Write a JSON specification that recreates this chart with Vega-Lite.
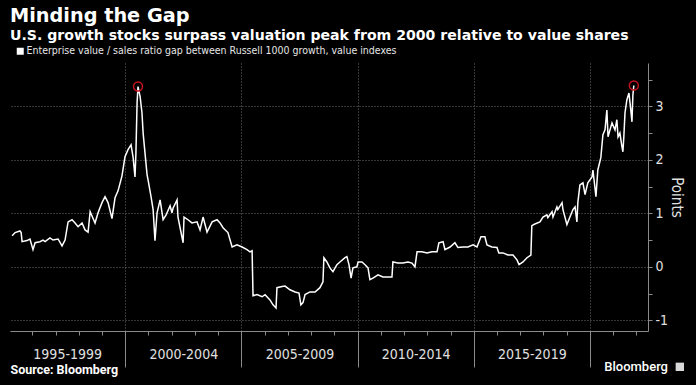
{
  "$schema": "https://vega.github.io/schema/vega-lite/v6.json",
  "width": 638,
  "height": 268,
  "autosize": {"type": "none"},
  "padding": {"left": 10, "top": 63, "right": 48, "bottom": 54},
  "background": "#000000",
  "title": {
    "text": "Minding the Gap",
    "subtitle": "U.S. growth stocks surpass valuation peak from 2000 relative to value shares",
    "anchor": "start",
    "frame": "group",
    "offset": 3,
    "font": "DejaVu Sans",
    "fontSize": 19.3,
    "fontWeight": "bold",
    "color": "#ffffff",
    "subtitleFont": "DejaVu Sans",
    "subtitleFontSize": 14.1,
    "subtitleFontWeight": "bold",
    "subtitleColor": "#ffffff",
    "subtitlePadding": 3
  },
  "datasets": {
    "gap": [
      {"year": 1995.13, "gap": 0.58}, {"year": 1995.26, "gap": 0.64}, {"year": 1995.47, "gap": 0.67}, {"year": 1995.52, "gap": 0.64},
      {"year": 1995.56, "gap": 0.47}, {"year": 1995.77, "gap": 0.49}, {"year": 1995.90, "gap": 0.52}, {"year": 1996.03, "gap": 0.32},
      {"year": 1996.12, "gap": 0.45}, {"year": 1996.33, "gap": 0.47}, {"year": 1996.46, "gap": 0.50}, {"year": 1996.55, "gap": 0.47},
      {"year": 1996.76, "gap": 0.54}, {"year": 1996.89, "gap": 0.50}, {"year": 1997.11, "gap": 0.52}, {"year": 1997.28, "gap": 0.39},
      {"year": 1997.41, "gap": 0.50}, {"year": 1997.54, "gap": 0.84}, {"year": 1997.71, "gap": 0.88}, {"year": 1997.84, "gap": 0.82},
      {"year": 1997.97, "gap": 0.75}, {"year": 1998.14, "gap": 0.82}, {"year": 1998.27, "gap": 0.69}, {"year": 1998.40, "gap": 0.65},
      {"year": 1998.49, "gap": 1.03}, {"year": 1998.70, "gap": 0.82}, {"year": 1998.83, "gap": 1.01}, {"year": 1999.00, "gap": 1.20},
      {"year": 1999.13, "gap": 1.31}, {"year": 1999.26, "gap": 1.20}, {"year": 1999.43, "gap": 0.90}, {"year": 1999.56, "gap": 1.29},
      {"year": 1999.69, "gap": 1.42}, {"year": 1999.86, "gap": 1.70}, {"year": 1999.99, "gap": 2.06}, {"year": 2000.12, "gap": 2.19},
      {"year": 2000.25, "gap": 2.28}, {"year": 2000.34, "gap": 2.04}, {"year": 2000.42, "gap": 1.68}, {"year": 2000.46, "gap": 2.13},
      {"year": 2000.51, "gap": 3.07}, {"year": 2000.55, "gap": 3.37}, {"year": 2000.64, "gap": 3.18}, {"year": 2000.72, "gap": 2.88},
      {"year": 2000.77, "gap": 2.50}, {"year": 2000.85, "gap": 2.13}, {"year": 2000.94, "gap": 1.72}, {"year": 2000.98, "gap": 1.63},
      {"year": 2001.11, "gap": 1.31}, {"year": 2001.20, "gap": 1.07}, {"year": 2001.28, "gap": 0.49}, {"year": 2001.37, "gap": 1.01},
      {"year": 2001.50, "gap": 1.25}, {"year": 2001.63, "gap": 0.88}, {"year": 2001.76, "gap": 0.97}, {"year": 2001.93, "gap": 1.14},
      {"year": 2002.01, "gap": 1.01}, {"year": 2002.06, "gap": 1.10}, {"year": 2002.23, "gap": 1.25}, {"year": 2002.27, "gap": 0.93},
      {"year": 2002.49, "gap": 0.45}, {"year": 2002.53, "gap": 0.93}, {"year": 2002.70, "gap": 0.88}, {"year": 2002.87, "gap": 0.82},
      {"year": 2003.09, "gap": 0.84}, {"year": 2003.22, "gap": 0.69}, {"year": 2003.35, "gap": 0.93}, {"year": 2003.52, "gap": 0.65},
      {"year": 2003.74, "gap": 0.84}, {"year": 2003.95, "gap": 0.88}, {"year": 2004.08, "gap": 0.82}, {"year": 2004.21, "gap": 0.73},
      {"year": 2004.42, "gap": 0.64}, {"year": 2004.60, "gap": 0.37}, {"year": 2004.81, "gap": 0.41}, {"year": 2005.03, "gap": 0.37},
      {"year": 2005.24, "gap": 0.32}, {"year": 2005.37, "gap": 0.28}, {"year": 2005.46, "gap": 0.30}, {"year": 2005.50, "gap": -0.54},
      {"year": 2005.67, "gap": -0.52}, {"year": 2005.89, "gap": -0.56}, {"year": 2006.02, "gap": -0.52}, {"year": 2006.23, "gap": -0.62},
      {"year": 2006.36, "gap": -0.71}, {"year": 2006.49, "gap": -0.77}, {"year": 2006.53, "gap": -0.39}, {"year": 2006.75, "gap": -0.37},
      {"year": 2006.88, "gap": -0.36}, {"year": 2007.09, "gap": -0.43}, {"year": 2007.31, "gap": -0.47}, {"year": 2007.48, "gap": -0.49},
      {"year": 2007.56, "gap": -0.71}, {"year": 2007.65, "gap": -0.67}, {"year": 2007.74, "gap": -0.52}, {"year": 2007.95, "gap": -0.47},
      {"year": 2008.17, "gap": -0.47}, {"year": 2008.38, "gap": -0.39}, {"year": 2008.51, "gap": -0.28}, {"year": 2008.55, "gap": 0.17},
      {"year": 2008.68, "gap": 0.09}, {"year": 2008.81, "gap": -0.02}, {"year": 2008.94, "gap": -0.09}, {"year": 2009.11, "gap": 0.04},
      {"year": 2009.24, "gap": 0.09}, {"year": 2009.46, "gap": 0.17}, {"year": 2009.54, "gap": 0.19}, {"year": 2009.63, "gap": 0.04},
      {"year": 2009.72, "gap": -0.21}, {"year": 2009.80, "gap": -0.02}, {"year": 2009.97, "gap": 0.00}, {"year": 2010.02, "gap": 0.09},
      {"year": 2010.19, "gap": 0.09}, {"year": 2010.32, "gap": 0.04}, {"year": 2010.45, "gap": -0.02}, {"year": 2010.53, "gap": -0.24},
      {"year": 2010.66, "gap": -0.21}, {"year": 2010.88, "gap": -0.15}, {"year": 2011.09, "gap": -0.19}, {"year": 2011.31, "gap": -0.19},
      {"year": 2011.48, "gap": -0.19}, {"year": 2011.52, "gap": 0.09}, {"year": 2011.74, "gap": 0.07}, {"year": 2011.95, "gap": 0.07},
      {"year": 2012.17, "gap": 0.09}, {"year": 2012.34, "gap": 0.07}, {"year": 2012.47, "gap": 0.00}, {"year": 2012.56, "gap": 0.28},
      {"year": 2012.77, "gap": 0.28}, {"year": 2012.99, "gap": 0.26}, {"year": 2013.20, "gap": 0.28}, {"year": 2013.42, "gap": 0.28},
      {"year": 2013.50, "gap": 0.45}, {"year": 2013.68, "gap": 0.47}, {"year": 2013.76, "gap": 0.32}, {"year": 2013.98, "gap": 0.37},
      {"year": 2014.19, "gap": 0.45}, {"year": 2014.32, "gap": 0.36}, {"year": 2014.54, "gap": 0.37}, {"year": 2014.75, "gap": 0.37},
      {"year": 2014.97, "gap": 0.41}, {"year": 2015.14, "gap": 0.37}, {"year": 2015.31, "gap": 0.56}, {"year": 2015.48, "gap": 0.56},
      {"year": 2015.57, "gap": 0.41}, {"year": 2015.78, "gap": 0.37}, {"year": 2016.00, "gap": 0.36}, {"year": 2016.08, "gap": 0.26},
      {"year": 2016.26, "gap": 0.26}, {"year": 2016.47, "gap": 0.22}, {"year": 2016.69, "gap": 0.22}, {"year": 2016.86, "gap": 0.13},
      {"year": 2016.95, "gap": 0.04}, {"year": 2017.12, "gap": 0.09}, {"year": 2017.29, "gap": 0.17}, {"year": 2017.46, "gap": 0.22},
      {"year": 2017.50, "gap": 0.77}, {"year": 2017.63, "gap": 0.80}, {"year": 2017.85, "gap": 0.84}, {"year": 2017.98, "gap": 0.93},
      {"year": 2018.15, "gap": 0.97}, {"year": 2018.19, "gap": 0.92}, {"year": 2018.37, "gap": 1.03}, {"year": 2018.41, "gap": 0.93},
      {"year": 2018.58, "gap": 1.12}, {"year": 2018.62, "gap": 1.07}, {"year": 2018.80, "gap": 1.20}, {"year": 2018.84, "gap": 1.07},
      {"year": 2019.01, "gap": 0.79}, {"year": 2019.14, "gap": 0.93}, {"year": 2019.27, "gap": 1.07}, {"year": 2019.36, "gap": 1.12},
      {"year": 2019.44, "gap": 0.84}, {"year": 2019.48, "gap": 1.20}, {"year": 2019.57, "gap": 1.53}, {"year": 2019.70, "gap": 1.57},
      {"year": 2019.79, "gap": 1.35}, {"year": 2019.91, "gap": 1.57}, {"year": 2020.09, "gap": 1.68}, {"year": 2020.13, "gap": 1.81},
      {"year": 2020.26, "gap": 1.31}, {"year": 2020.34, "gap": 1.81}, {"year": 2020.47, "gap": 2.04}, {"year": 2020.56, "gap": 2.47},
      {"year": 2020.65, "gap": 2.56}, {"year": 2020.73, "gap": 2.93}, {"year": 2020.78, "gap": 2.43}, {"year": 2020.95, "gap": 2.69},
      {"year": 2021.08, "gap": 2.56}, {"year": 2021.16, "gap": 2.75}, {"year": 2021.21, "gap": 2.43}, {"year": 2021.29, "gap": 2.50},
      {"year": 2021.38, "gap": 2.24}, {"year": 2021.42, "gap": 2.15}, {"year": 2021.46, "gap": 2.43}, {"year": 2021.51, "gap": 2.88},
      {"year": 2021.59, "gap": 3.12}, {"year": 2021.68, "gap": 3.25}, {"year": 2021.76, "gap": 2.93}, {"year": 2021.81, "gap": 2.71},
      {"year": 2021.85, "gap": 3.21}, {"year": 2021.89, "gap": 3.39}
    ],
    "peaks": [
      {"year": 2000.55, "gap": 3.37},
      {"year": 2021.89, "gap": 3.39}
    ]
  },
  "layer": [
    {
      "data": {"name": "gap"},
      "mark": {"type": "line", "strokeWidth": 1.5},
      "encoding": {
        "x": {
          "field": "year", "type": "quantitative",
          "scale": {"domain": [1995.04, 2022.5], "nice": false, "zero": false},
          "axis": {
            "orient": "bottom", "values": [2000, 2005, 2010, 2015, 2020], "labels": false, "title": null,
            "tickSize": 36, "tickColor": "#8a8a8a", "domainColor": "#8a8a8a",
            "grid": true, "gridColor": "#6a6a6a", "gridDash": [1, 2]
          }
        },
        "y": {
          "field": "gap", "type": "quantitative",
          "scale": {"domain": [-1.2, 3.81], "nice": false, "zero": false},
          "axis": {
            "orient": "right", "values": [-1, -0.5, 0, 0.5, 1, 1.5, 2, 2.5, 3, 3.5],
            "labelExpr": "datum.value % 1 === 0 ? '' + datum.value : ''",
            "tickSize": 4, "tickColor": "#8a8a8a", "domainColor": "#8a8a8a",
            "labelPadding": 3, "labelFont": "DejaVu Sans Condensed, Roboto", "labelFontSize": 14, "labelColor": "#e0e0e0",
            "grid": true, "gridColor": "#6a6a6a", "gridDash": [1, 2],
            "gridOpacity": {"condition": {"test": "datum.value % 1 !== 0", "value": 0}, "value": 1},
            "title": "Points", "titleFont": "DejaVu Sans Condensed, Roboto", "titleFontSize": 15, "titleFontWeight": "normal",
            "titleColor": "#e0e0e0", "titlePadding": 1
          }
        },
        "color": {
          "datum": "Enterprise value / sales ratio gap between Russell 1000 growth, value indexes",
          "type": "nominal",
          "scale": {"range": ["#ffffff"]},
          "legend": {
            "orient": "none", "legendX": 5, "legendY": -17, "title": null, "padding": 0,
            "symbolType": "square", "symbolSize": 49, "symbolFillColor": "#ffffff", "symbolStrokeColor": "#ffffff",
            "symbolStrokeWidth": 0, "labelOffset": 1,
            "labelFont": "DejaVu Sans Condensed, Roboto", "labelFontSize": 10.5, "labelColor": "#e6e6e6", "labelLimit": 0
          }
        }
      }
    },
    {
      "data": {"name": "peaks"},
      "mark": {"type": "point", "shape": "circle", "filled": false, "stroke": "#c8141e", "strokeWidth": 1.5, "size": 80, "opacity": 1},
      "encoding": {
        "x": {
          "field": "year", "type": "quantitative",
          "scale": {"domain": [1995.04, 2022.5], "nice": false, "zero": false},
          "axis": {
            "orient": "bottom", "values": [1997.5, 2002.5, 2007.5, 2012.5, 2017.5],
            "labelExpr": "(datum.value - 2.5) + '-' + (datum.value + 1.5)",
            "ticks": false, "tickSize": 0, "domain": false, "grid": false, "labelPadding": 16,
            "labelFont": "DejaVu Sans Condensed, Roboto", "labelFontSize": 14, "labelColor": "#e0e0e0",
            "title": "Source: Bloomberg", "titleAnchor": "start", "titleAlign": "left", "titleX": 0, "titleY": 38,
            "titleBaseline": "middle", "titleFont": "Roboto", "titleFontSize": 12.5, "titleFontWeight": "bold", "titleColor": "#ffffff"
          }
        },
        "y": {
          "field": "gap", "type": "quantitative",
          "scale": {"domain": [-1.2, 3.81], "nice": false, "zero": false},
          "axis": null
        }
      }
    },
    {
      "data": {"values": [{"label": "Bloomberg"}]},
      "mark": {"type": "text", "align": "right", "baseline": "middle", "font": "Roboto", "fontSize": 13, "fontWeight": 500, "color": "#ffffff"},
      "encoding": {
        "x": {
          "datum": 2023.36, "type": "quantitative",
          "scale": {"domain": [1995.04, 2022.5], "nice": false, "zero": false},
          "axis": {
            "orient": "bottom",
            "values": [1996, 1997, 1998, 1999, 2001, 2002, 2003, 2004, 2006, 2007, 2008, 2009, 2011, 2012, 2013, 2014, 2016, 2017, 2018, 2019, 2021, 2022],
            "labels": false, "domain": false, "grid": false, "title": null, "tickSize": 4, "tickColor": "#8a8a8a"
          }
        },
        "y": {
          "datum": -1.87, "type": "quantitative",
          "scale": {"domain": [-1.2, 3.81], "nice": false, "zero": false},
          "axis": null
        },
        "text": {"field": "label"}
      }
    },
    {
      "data": {"values": [{"label": "logo"}]},
      "mark": {"type": "square", "size": 70, "color": "#d8d8d8", "opacity": 1},
      "encoding": {
        "x": {
          "datum": 2023.87, "type": "quantitative",
          "scale": {"domain": [1995.04, 2022.5], "nice": false, "zero": false},
          "axis": null
        },
        "y": {
          "datum": -1.87, "type": "quantitative",
          "scale": {"domain": [-1.2, 3.81], "nice": false, "zero": false},
          "axis": null
        }
      }
    }
  ],
  "resolve": {"axis": {"x": "independent", "y": "independent"}},
  "config": {"view": {"stroke": null}}
}
